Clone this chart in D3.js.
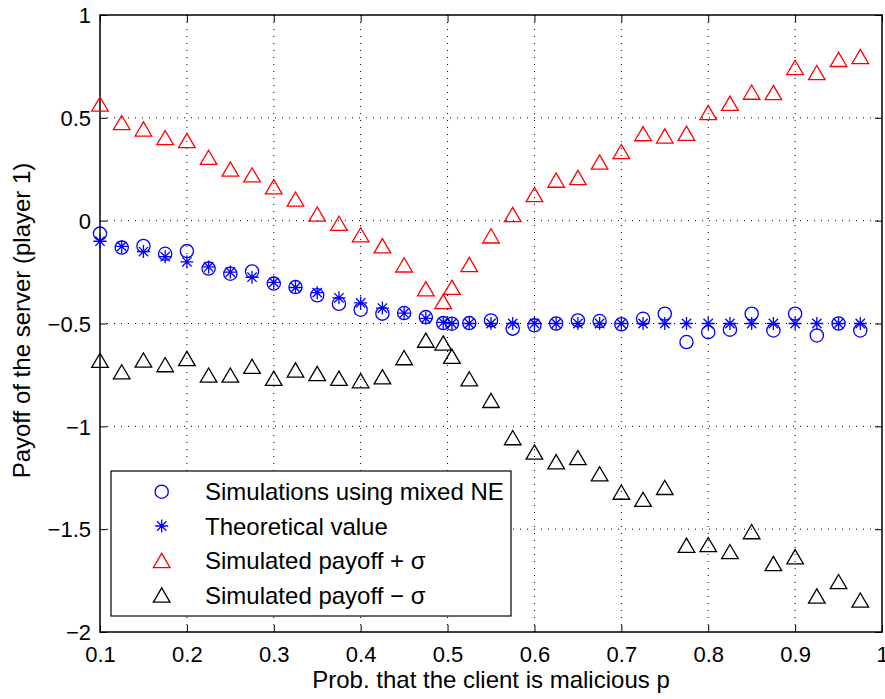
<!DOCTYPE html>
<html>
<head>
<meta charset="utf-8">
<script src="https://cdn.jsdelivr.net/npm/d3@7"></script>
<style>
  html, body { margin: 0; padding: 0; background: #fff; }
  svg { display: block; font-family: "Liberation Sans", Arial, Helvetica, sans-serif; }
</style>
</head>
<body>
<svg id="chart" width="885" height="699"></svg>
<script>
// ---- data ----
const pValues = [0.1,0.125,0.15,0.175,0.2,0.225,0.25,0.275,0.3,0.325,0.35,0.375,0.4,0.425,0.45,0.475,0.495,0.505,0.525,0.55,0.575,0.6,0.625,0.65,0.675,0.7,0.725,0.75,0.775,0.8,0.825,0.85,0.875,0.9,0.925,0.95,0.975];
const simMixedNE = [-0.063,-0.131,-0.123,-0.161,-0.148,-0.233,-0.258,-0.247,-0.306,-0.323,-0.363,-0.404,-0.433,-0.452,-0.449,-0.469,-0.498,-0.501,-0.498,-0.485,-0.525,-0.509,-0.500,-0.485,-0.488,-0.504,-0.477,-0.452,-0.590,-0.542,-0.530,-0.452,-0.534,-0.452,-0.558,-0.500,-0.534];
const theoretical = [-0.1,-0.125,-0.15,-0.175,-0.2,-0.225,-0.25,-0.275,-0.3,-0.325,-0.35,-0.375,-0.4,-0.425,-0.45,-0.475,-0.495,-0.5,-0.5,-0.5,-0.5,-0.5,-0.5,-0.5,-0.5,-0.5,-0.5,-0.5,-0.5,-0.5,-0.5,-0.5,-0.5,-0.5,-0.5,-0.5,-0.5];
const plusSigma = [0.567,0.477,0.446,0.404,0.390,0.308,0.251,0.223,0.165,0.105,0.032,-0.013,-0.069,-0.122,-0.215,-0.331,-0.393,-0.324,-0.213,-0.074,0.030,0.127,0.197,0.210,0.285,0.336,0.423,0.412,0.425,0.526,0.571,0.625,0.623,0.745,0.720,0.784,0.798];
const minusSigma = [-0.679,-0.735,-0.678,-0.700,-0.670,-0.751,-0.751,-0.708,-0.766,-0.726,-0.743,-0.766,-0.778,-0.759,-0.666,-0.581,-0.595,-0.659,-0.769,-0.874,-1.055,-1.125,-1.172,-1.152,-1.231,-1.320,-1.355,-1.297,-1.578,-1.575,-1.609,-1.512,-1.667,-1.634,-1.825,-1.755,-1.845];
const xTickValues = [0.1,0.2,0.3,0.4,0.5,0.6,0.7,0.8,0.9,1];
const yTickValues = [-2,-1.5,-1,-0.5,0,0.5,1];
const seriesNames = ["Simulations using mixed NE","Theoretical value","Simulated payoff + \u03c3","Simulated payoff \u2212 \u03c3"];
const xLabel = "Prob. that the client is malicious p";
const yLabel = "Payoff of the server (player 1)";

// ---- layout ----
const L = 100, R = 882, T = 15, B = 632;
const svg = d3.select("#chart");
const x = d3.scaleLinear().domain([0.1, 1]).range([L, R]);
const y = d3.scaleLinear().domain([-2, 1]).range([B, T]);
const fmt = d3.format("~g");

// grid
const grid = svg.append("g");
grid.selectAll("line.vg").data(xTickValues.slice(1, -1)).enter().append("line")
  .attr("x1", d => x(d)).attr("x2", d => x(d)).attr("y1", T).attr("y2", B)
  .attr("stroke", "#000").attr("stroke-width", 1).attr("stroke-dasharray", "1,6");
grid.selectAll("line.hg").data(yTickValues.slice(1, -1)).enter().append("line")
  .attr("y1", d => y(d)).attr("y2", d => y(d)).attr("x1", L).attr("x2", R)
  .attr("stroke", "#000").attr("stroke-width", 1).attr("stroke-dasharray", "1,6");

// axes (ticks inward on all four sides)
const tickLen = 7;
const axB = svg.append("g").attr("transform", `translate(0,${B})`)
  .call(d3.axisBottom(x).tickValues(xTickValues).tickFormat(fmt).tickSizeInner(-tickLen).tickSizeOuter(0).tickPadding(14));
const axT = svg.append("g").attr("transform", `translate(0,${T})`)
  .call(d3.axisTop(x).tickValues(xTickValues).tickFormat("").tickSizeInner(-tickLen).tickSizeOuter(0));
const axL = svg.append("g").attr("transform", `translate(${L},0)`)
  .call(d3.axisLeft(y).tickValues(yTickValues).tickFormat(fmt).tickSizeInner(-tickLen).tickSizeOuter(0).tickPadding(9));
const axR = svg.append("g").attr("transform", `translate(${R},0)`)
  .call(d3.axisRight(y).tickValues(yTickValues).tickFormat("").tickSizeInner(-tickLen).tickSizeOuter(0));
[axB, axT, axL, axR].forEach(a => {
  a.select(".domain").remove();
  a.selectAll(".tick line").attr("stroke", "#000").attr("stroke-width", 1);
  a.selectAll("text").attr("fill", "#000").style("font-size", "22px")
    .style("font-family", "'Liberation Sans', Arial, sans-serif");
});
axB.selectAll("text").attr("dy", "0.71em");
axL.selectAll("text").attr("dy", "0.35em");
svg.append("rect").attr("x", L).attr("y", T).attr("width", R - L).attr("height", B - T)
  .attr("fill", "none").attr("stroke", "#000").attr("stroke-width", 1.5);

// axis labels
svg.append("text").attr("x", (L + R) / 2).attr("y", 688).attr("text-anchor", "middle")
  .style("font-size", "24px").text(xLabel);
svg.append("text").attr("transform", `translate(30,${(T + B) / 2 - 3}) rotate(-90)`)
  .attr("text-anchor", "middle").style("font-size", "24px").text(yLabel);

// marker drawers
function circle(g, cx, cy, color) {
  g.append("circle").attr("cx", cx).attr("cy", cy).attr("r", 6.6)
    .attr("fill", "none").attr("stroke", color).attr("stroke-width", 1.3);
}
function star(g, cx, cy, color) {
  const r = 6.5, d = r * 0.72;
  const p = `M${cx - r},${cy}L${cx + r},${cy}M${cx},${cy - r}L${cx},${cy + r}` +
            `M${cx - d},${cy - d}L${cx + d},${cy + d}M${cx - d},${cy + d}L${cx + d},${cy - d}`;
  g.append("path").attr("d", p).attr("fill", "none").attr("stroke", color).attr("stroke-width", 1.3);
}
function tri(g, cx, cy, color) {
  const w = 8.3, h = 7.1;
  g.append("path").attr("d", `M${cx},${cy - h}L${cx + w},${cy + h}L${cx - w},${cy + h}Z`)
    .attr("fill", "none").attr("stroke", color).attr("stroke-width", 1.3).attr("stroke-linejoin", "miter");
}

const blue = "#0000ff", red = "#ff0000", black = "#000000";
const series = [
  { vals: simMixedNE, draw: circle, color: blue },
  { vals: theoretical, draw: star, color: blue },
  { vals: plusSigma, draw: tri, color: red },
  { vals: minusSigma, draw: tri, color: black }
];
const marks = svg.append("g");
series.forEach(s => {
  const g = marks.append("g");
  s.vals.forEach((v, i) => s.draw(g, x(pValues[i]), y(v), s.color));
});

// legend
const lg = svg.append("g");
lg.append("rect").attr("x", 111).attr("y", 471).attr("width", 400).attr("height", 145)
  .attr("fill", "#fff").attr("stroke", "#000").attr("stroke-width", 1.2);
const rowY = [491.7, 526, 560.5, 595];
series.forEach((s, i) => {
  s.draw(lg, 161.7, rowY[i], s.color);
  lg.append("text").attr("x", 205).attr("y", rowY[i] + 8.5).style("font-size", "24px")
    .attr("fill", "#000").text(seriesNames[i]);
});
</script>
</body>
</html>
